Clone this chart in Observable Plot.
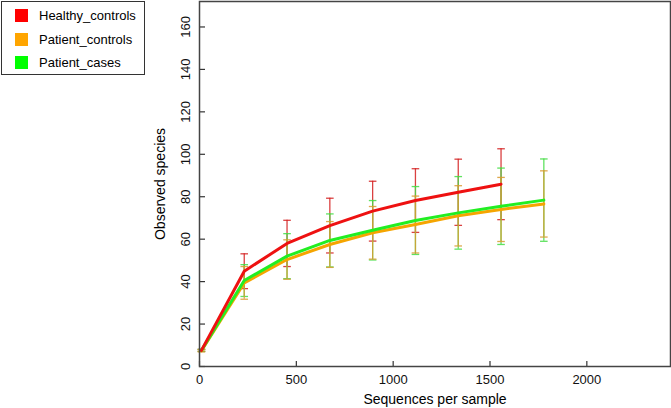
<!DOCTYPE html>
<html>
<head>
<meta charset="utf-8">
<script src="https://cdn.jsdelivr.net/npm/d3@7"></script>
<script src="https://cdn.jsdelivr.net/npm/@observablehq/plot@0.6"></script>
<style>
  body { margin: 0; background: #fff; font-family: Arial, "Liberation Sans", sans-serif; }
  #wrap { position: relative; width: 671px; height: 408px; }
  #legend { position: absolute; left: 1px; top: 1px; width: 142px; height: 72px; border: 1.5px solid #333; background: #fff; }
  .item { position: absolute; left: 13px; font-size: 13px; color: #000; display: flex; align-items: center; }
  .sw { width: 13px; height: 13px; margin-right: 11px; }
</style>
</head>
<body>
<div id="wrap"></div>
<script>
const seqs = [10, 231, 452, 673, 894, 1115, 1336, 1557, 1778];
const groups = ["Healthy_controls", "Patient_controls", "Patient_cases"];
const colors = ["#ee1111", "#f5a500", "#22ee22"];
const barColors = ["#d42020", "#d99a30", "#44dd44"];

const healthyMean = [7.6, 44.9, 58.0, 66.4, 73.2, 78.2, 82.1, 85.9];
const healthySd   = [0.5, 8.2, 10.9, 12.9, 14.1, 15.0, 15.6, 16.7];
const pControlMean = [7.4, 39.4, 50.4, 57.5, 63.0, 66.9, 71.0, 74.0, 76.6];
const pControlSd   = [0.5, 7.7, 9.3, 10.8, 12.4, 13.4, 14.2, 15.1, 15.6];
const pCaseMean = [7.6, 40.5, 52.0, 59.4, 64.2, 68.8, 72.4, 75.5, 78.4];
const pCaseSd   = [0.5, 7.5, 10.6, 12.5, 14.0, 16.0, 17.1, 18.0, 19.4];

const xTicks = [0, 500, 1000, 1500, 2000];
const yTicks = [0, 20, 40, 60, 80, 100, 120, 140, 160];

function rows(group, means, sds) {
  return means.map((m, i) => ({group, x: seqs[i], y: m, lo: m - sds[i], hi: m + sds[i]}));
}
const hc = rows(groups[0], healthyMean, healthySd);
const pc = rows(groups[1], pControlMean, pControlSd);
const ca = rows(groups[2], pCaseMean, pCaseSd);

const capSymbol = {draw(ctx, size) { const w = Math.sqrt(size / Math.PI); ctx.moveTo(-w, 0); ctx.lineTo(w, 0); }};

function bars(data, c) {
  return [
    Plot.ruleX(data, {x: "x", y1: "lo", y2: "hi", stroke: c, strokeWidth: 1.3, strokeOpacity: 0.85}),
    Plot.dot(data, {x: "x", y: "hi", symbol: capSymbol, r: 3.8, stroke: c, strokeWidth: 1.3, strokeOpacity: 0.85}),
    Plot.dot(data, {x: "x", y: "lo", symbol: capSymbol, r: 3.8, stroke: c, strokeWidth: 1.3, strokeOpacity: 0.85})
  ];
}

const chart = Plot.plot({
  width: 671,
  height: 408,
  marginLeft: 199,
  marginRight: 1,
  marginTop: 1,
  marginBottom: 42,
  style: {fontFamily: "Arial, 'Liberation Sans', sans-serif", fontSize: "12px", background: "transparent"},
  x: {domain: [0, 2432], axis: null},
  y: {domain: [0, 172], axis: null},
  marks: [
    ...bars(hc, barColors[0]),
    ...bars(ca, barColors[2]),
    ...bars(pc, barColors[1]),
    Plot.line(pc, {x: "x", y: "y", stroke: colors[1], strokeWidth: 3}),
    Plot.line(ca, {x: "x", y: "y", stroke: colors[2], strokeWidth: 3}),
    Plot.line(hc, {x: "x", y: "y", stroke: colors[0], strokeWidth: 3}),
    Plot.tickX(xTicks, {x: d => d, insetTop: 360, stroke: "#333", strokeWidth: 1.2}),
    Plot.tickY(yTicks, {y: d => d, insetRight: 465, stroke: "#333", strokeWidth: 1.2}),
    Plot.text(xTicks, {x: d => d, frameAnchor: "bottom", dy: 17, text: d => String(d), fill: "#111", fontSize: 13}),
    Plot.text(yTicks, {y: d => d, frameAnchor: "left", dx: -14, rotate: -90, textAnchor: "middle", text: d => String(d), fill: "#111", fontSize: 13}),
    Plot.text(["Sequences per sample"], {frameAnchor: "bottom", dy: 37, fill: "#000", fontSize: 14}),
    Plot.text(["Observed species"], {frameAnchor: "left", dx: -39, rotate: -90, textAnchor: "middle", fill: "#000", fontSize: 14}),
    Plot.frame({stroke: "#444", strokeWidth: 1.5})
  ]
});

const wrap = document.getElementById("wrap");
wrap.appendChild(chart);
const legend = document.createElement("div");
legend.id = "legend";
groups.forEach((g, i) => {
  const it = document.createElement("div");
  it.className = "item";
  it.style.top = (6 + i * 23.5) + "px";
  const sw = document.createElement("span");
  sw.className = "sw";
  sw.style.background = ["#ff0000", "#ffa500", "#00ff00"][i];
  it.appendChild(sw);
  it.appendChild(document.createTextNode(g));
  legend.appendChild(it);
});
wrap.appendChild(legend);
</script>
</body>
</html>
